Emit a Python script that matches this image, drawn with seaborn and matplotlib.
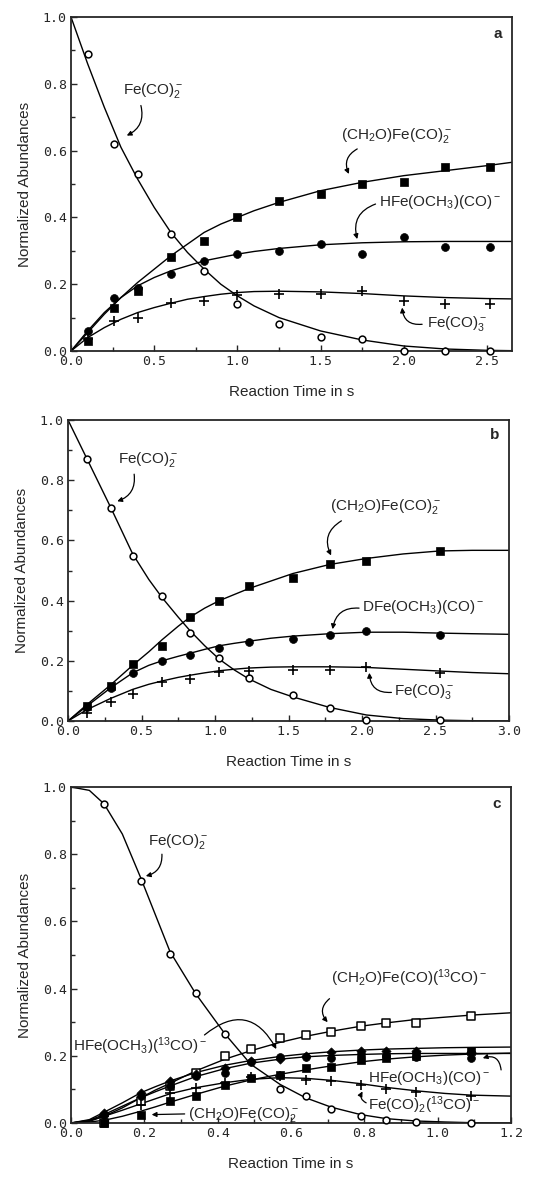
import matplotlib
matplotlib.use("Agg")
import numpy as np
import pandas as pd
import matplotlib.pyplot as plt
from matplotlib.ticker import MultipleLocator
import seaborn as sns

# ---------------- data: panel a ----------------
ta = [0.10, 0.26, 0.40, 0.60, 0.80, 1.00, 1.25, 1.50, 1.75, 2.00, 2.25, 2.52]
a_fe2 = [0.89, 0.62, 0.53, 0.35, 0.24, 0.14, 0.08, 0.042, 0.035, 0.0, 0.0, 0.0]
a_ch2o = [0.03, 0.13, 0.18, 0.28, 0.33, 0.40, 0.45, 0.47, 0.50, 0.505, 0.55, 0.55]
a_hfe = [0.06, 0.16, 0.19, 0.23, 0.27, 0.29, 0.30, 0.32, 0.29, 0.34, 0.31, 0.31]
a_fe3 = [0.035, 0.09, 0.10, 0.145, 0.15, 0.167, 0.17, 0.17, 0.18, 0.15, 0.14, 0.14]

xa_fit = [0, 0.1, 0.2, 0.3, 0.4, 0.5, 0.6, 0.7, 0.8, 0.9, 1.0, 1.1, 1.25, 1.5, 1.75, 2.0, 2.25, 2.5, 2.65]
a_fe2_fit = [1.0, 0.86, 0.73, 0.61, 0.515, 0.43, 0.355, 0.295, 0.245, 0.2, 0.165, 0.135, 0.10, 0.06, 0.033, 0.015, 0.006, 0.002, 0.001]
a_ch2o_fit = [0, 0.055, 0.11, 0.16, 0.205, 0.245, 0.285, 0.32, 0.355, 0.38, 0.40, 0.42, 0.445, 0.48, 0.505, 0.525, 0.54, 0.555, 0.565]
a_hfe_fit = [0, 0.06, 0.115, 0.16, 0.195, 0.22, 0.24, 0.255, 0.27, 0.28, 0.29, 0.298, 0.307, 0.318, 0.324, 0.327, 0.328, 0.328, 0.328]
a_fe3_fit = [0, 0.04, 0.07, 0.095, 0.115, 0.13, 0.143, 0.155, 0.163, 0.17, 0.175, 0.178, 0.179, 0.177, 0.172, 0.165, 0.16, 0.157, 0.156]

# ---------------- data: panel b ----------------
tb = [0.13, 0.29, 0.44, 0.64, 0.83, 1.03, 1.23, 1.53, 1.78, 2.03, 2.53]
b_fe2 = [0.87, 0.708, 0.548, 0.415, 0.293, 0.208, 0.142, 0.085, 0.042, 0.002, 0.002]
b_ch2o = [0.051, 0.116, 0.19, 0.25, 0.347, 0.398, 0.449, 0.475, 0.52, 0.53, 0.566]
b_dfe = [0.045, 0.11, 0.161, 0.20, 0.219, 0.242, 0.261, 0.273, 0.286, 0.298, 0.286]
b_fe3 = [0.026, 0.0625, 0.089, 0.13, 0.14, 0.162, 0.165, 0.17, 0.17, 0.18, 0.16]

xb_fit = [0, 0.13, 0.29, 0.44, 0.55, 0.64, 0.75, 0.83, 0.93, 1.03, 1.13, 1.23, 1.38, 1.53, 1.78, 2.03, 2.28, 2.53, 2.75, 3.0]
b_fe2_fit = [1.0, 0.87, 0.71, 0.555, 0.47, 0.41, 0.345, 0.30, 0.25, 0.205, 0.17, 0.14, 0.105, 0.08, 0.045, 0.02, 0.008, 0.003, 0.001, 0.0]
b_ch2o_fit = [0, 0.055, 0.12, 0.185, 0.23, 0.27, 0.315, 0.345, 0.375, 0.40, 0.42, 0.44, 0.465, 0.49, 0.52, 0.54, 0.555, 0.565, 0.567, 0.567]
b_dfe_fit = [0, 0.05, 0.11, 0.16, 0.185, 0.20, 0.215, 0.225, 0.238, 0.25, 0.258, 0.265, 0.275, 0.282, 0.29, 0.295, 0.295, 0.292, 0.29, 0.288]
b_fe3_fit = [0, 0.038, 0.075, 0.105, 0.122, 0.133, 0.145, 0.152, 0.16, 0.167, 0.172, 0.176, 0.179, 0.18, 0.18, 0.178, 0.172, 0.166, 0.161, 0.157]

# ---------------- data: panel c ----------------
tc = [0.09, 0.19, 0.27, 0.34, 0.42, 0.49, 0.57, 0.64, 0.71, 0.79, 0.86, 0.94, 1.09]
c_fe2 = [0.948, 0.72, 0.503, 0.388, 0.264, np.nan, 0.10, 0.081, 0.042, 0.02, 0.008, 0.002, 0.0]
c_ch2o13 = [0.0, 0.065, 0.11, 0.15, 0.20, 0.22, 0.252, 0.262, 0.272, 0.289, 0.299, 0.299, 0.319]
c_hfe13 = [0.03, 0.09, 0.125, 0.145, 0.165, 0.185, 0.19, 0.20, 0.212, 0.213, 0.215, 0.215, 0.212]
c_hfe = [0.025, 0.08, 0.11, 0.139, 0.15, 0.183, 0.196, 0.196, 0.193, 0.205, 0.20, 0.196, 0.193]
c_ch2o = [0.0, 0.023, 0.064, 0.081, 0.114, 0.134, 0.144, 0.163, 0.168, 0.188, 0.193, 0.20, 0.213]
c_fe13 = [0.02, 0.055, 0.089, 0.104, 0.119, 0.136, 0.14, 0.129, 0.124, 0.114, 0.101, 0.091, 0.081]

xc_fit = [0, 0.05, 0.09, 0.14, 0.19, 0.23, 0.27, 0.34, 0.42, 0.49, 0.57, 0.64, 0.71, 0.79, 0.86, 0.94, 1.02, 1.09, 1.2]
c_fe2_fit = [1.0, 0.99, 0.95, 0.86, 0.73, 0.62, 0.51, 0.385, 0.265, 0.175, 0.115, 0.075, 0.047, 0.025, 0.013, 0.006, 0.003, 0.001, 0.0]
c_ch2o13_fit = [0, 0.005, 0.02, 0.045, 0.075, 0.098, 0.118, 0.155, 0.19, 0.215, 0.24, 0.258, 0.273, 0.288, 0.298, 0.308, 0.315, 0.321, 0.328]
c_hfe13_fit = [0, 0.01, 0.032, 0.06, 0.09, 0.108, 0.125, 0.15, 0.172, 0.186, 0.198, 0.206, 0.212, 0.217, 0.22, 0.222, 0.224, 0.225, 0.226]
c_hfe_fit = [0, 0.008, 0.025, 0.05, 0.075, 0.093, 0.11, 0.138, 0.162, 0.178, 0.19, 0.197, 0.201, 0.204, 0.206, 0.207, 0.207, 0.207, 0.207]
c_ch2o_fit = [0, 0.003, 0.008, 0.02, 0.035, 0.048, 0.062, 0.085, 0.11, 0.128, 0.145, 0.158, 0.17, 0.182, 0.19, 0.197, 0.202, 0.205, 0.208]
c_fe13_fit = [0, 0.007, 0.02, 0.038, 0.057, 0.072, 0.087, 0.105, 0.12, 0.13, 0.135, 0.133, 0.127, 0.117, 0.106, 0.096, 0.088, 0.083, 0.08]

# ---------------- style ----------------
sns.set_style("ticks")
plt.rcParams['font.family'] = ['Liberation Sans', 'DejaVu Sans']
plt.rcParams['mathtext.fontset'] = 'custom'
plt.rcParams['mathtext.rm'] = 'Liberation Sans'
plt.rcParams['mathtext.it'] = 'Liberation Sans:italic'
plt.rcParams['mathtext.bf'] = 'Liberation Sans:bold'

fig = plt.figure(figsize=(5.57, 11.8), dpi=100)
axa = fig.add_axes([71/557, 1-351/1180, 441/557, 334/1180])
axb = fig.add_axes([68/557, 1-721/1180, 441/557, 301/1180])
axc = fig.add_axes([71/557, 1-1123/1180, 440/557, 336/1180])

MK = {
    'ocirc': dict(marker='o', s=24, facecolor='white', edgecolor='black', linewidth=1.1),
    'fcirc': dict(marker='o', s=32, color='black', edgecolor='black', linewidth=0.5),
    'fsq': dict(marker='s', s=32, color='black', edgecolor='black', linewidth=0.5),
    'osq': dict(marker='s', s=30, facecolor='white', edgecolor='black', linewidth=1.1),
    'fdia': dict(marker='D', s=22, color='black', edgecolor='black', linewidth=0.5),
    'plus': dict(marker='+', s=48, color='black', linewidth=1.2),
}


def draw(ax, x, y, xf, yf, mk):
    df = pd.DataFrame({'t': x, 'v': y}).dropna()
    dff = pd.DataFrame({'t': xf, 'v': yf})
    sns.lineplot(data=dff, x='t', y='v', ax=ax, color='black', lw=1.0,
                 estimator=None, sort=False, zorder=2)
    sns.scatterplot(data=df, x='t', y='v', ax=ax, zorder=3, clip_on=False, **MK[mk])


def arrow(ax, tail, head, rad):
    ax.annotate('', xy=head, xytext=tail,
                arrowprops=dict(arrowstyle='-|>', color='black', lw=0.9,
                                mutation_scale=7, shrinkA=0, shrinkB=0,
                                connectionstyle=f'arc3,rad={rad}'))


def style(ax, xmax, xmaj, xmin, letter):
    ax.set_xlim(0, xmax)
    ax.set_ylim(0, 1.0)
    ax.xaxis.set_major_locator(MultipleLocator(xmaj))
    ax.xaxis.set_minor_locator(MultipleLocator(xmin))
    ax.yaxis.set_major_locator(MultipleLocator(0.2))
    ax.yaxis.set_minor_locator(MultipleLocator(0.1))
    ax.tick_params(which='both', direction='in', width=1.0, pad=3)
    ax.tick_params(which='major', length=4)
    ax.tick_params(which='minor', length=3)
    for lab in ax.get_xticklabels() + ax.get_yticklabels():
        lab.set_fontfamily('DejaVu Sans Mono')
        lab.set_fontsize(9.5)
    for sp in ax.spines.values():
        sp.set_linewidth(1.3)
        sp.set_visible(True)
    ax.set_xlabel('Reaction Time in s', fontsize=11, labelpad=12)
    ax.set_ylabel('Normalized Abundances', fontsize=11, labelpad=8)
    ax.text(0.968, 0.95, letter, transform=ax.transAxes, fontsize=11,
            fontweight='bold', ha='center', va='center')


FS = 11

# ---------------- panel a ----------------
draw(axa, ta, a_fe2, xa_fit, a_fe2_fit, 'ocirc')
draw(axa, ta, a_ch2o, xa_fit, a_ch2o_fit, 'fsq')
draw(axa, ta, a_hfe, xa_fit, a_hfe_fit, 'fcirc')
draw(axa, ta, a_fe3, xa_fit, a_fe3_fit, 'plus')
style(axa, 2.65, 0.5, 0.25, 'a')
axa.text(0.31, 0.78, r'Fe(CO)$_2^-$', fontsize=FS, va='center')
arrow(axa, (0.42, 0.735), (0.335, 0.645), -0.4)
axa.text(1.62, 0.645, r'(CH$_2$O)Fe(CO)$_2^-$', fontsize=FS, va='center')
arrow(axa, (1.72, 0.605), (1.67, 0.53), 0.45)
axa.text(1.85, 0.447, r'HFe(OCH$_3$)(CO)$^-$', fontsize=FS, va='center')
arrow(axa, (1.83, 0.44), (1.72, 0.335), 0.45)
axa.text(2.14, 0.083, r'Fe(CO)$_3^-$', fontsize=FS, va='center')
arrow(axa, (2.11, 0.08), (1.99, 0.13), -0.5)

# ---------------- panel b ----------------
draw(axb, tb, b_fe2, xb_fit, b_fe2_fit, 'ocirc')
draw(axb, tb, b_ch2o, xb_fit, b_ch2o_fit, 'fsq')
draw(axb, tb, b_dfe, xb_fit, b_dfe_fit, 'fcirc')
draw(axb, tb, b_fe3, xb_fit, b_fe3_fit, 'plus')
style(axb, 3.0, 0.5, 0.25, 'b')
axb.text(0.34, 0.87, r'Fe(CO)$_2^-$', fontsize=FS, va='center')
arrow(axb, (0.45, 0.82), (0.335, 0.73), -0.4)
axb.text(1.78, 0.713, r'(CH$_2$O)Fe(CO)$_2^-$', fontsize=FS, va='center')
arrow(axb, (1.86, 0.665), (1.79, 0.55), 0.45)
axb.text(2.0, 0.38, r'DFe(OCH$_3$)(CO)$^-$', fontsize=FS, va='center')
arrow(axb, (1.98, 0.375), (1.8, 0.305), 0.45)
axb.text(2.22, 0.097, r'Fe(CO)$_3^-$', fontsize=FS, va='center')
arrow(axb, (2.2, 0.095), (2.05, 0.16), -0.5)

# ---------------- panel c ----------------
draw(axc, tc, c_fe2, xc_fit, c_fe2_fit, 'ocirc')
draw(axc, tc, c_ch2o13, xc_fit, c_ch2o13_fit, 'osq')
draw(axc, tc, c_hfe13, xc_fit, c_hfe13_fit, 'fdia')
draw(axc, tc, c_hfe, xc_fit, c_hfe_fit, 'fcirc')
draw(axc, tc, c_ch2o, xc_fit, c_ch2o_fit, 'fsq')
draw(axc, tc, c_fe13, xc_fit, c_fe13_fit, 'plus')
style(axc, 1.2, 0.2, 0.1, 'c')
axc.text(0.21, 0.838, r'Fe(CO)$_2^-$', fontsize=FS, va='center')
arrow(axc, (0.248, 0.80), (0.204, 0.735), -0.4)
axc.text(0.71, 0.43, r'(CH$_2$O)Fe(CO)($^{13}$CO)$^-$', fontsize=FS, va='center')
arrow(axc, (0.705, 0.37), (0.70, 0.30), 0.5)
axc.text(0.005, 0.228, r'HFe(OCH$_3$)($^{13}$CO)$^-$', fontsize=FS, va='center')
arrow(axc, (0.364, 0.262), (0.56, 0.22), -0.6)
axc.text(0.81, 0.134, r'HFe(OCH$_3$)(CO)$^-$', fontsize=FS, va='center')
arrow(axc, (1.173, 0.158), (1.123, 0.193), 0.6)
axc.text(0.81, 0.054, r'Fe(CO)$_2$($^{13}$CO)$^-$', fontsize=FS, va='center')
arrow(axc, (0.805, 0.06), (0.795, 0.094), -0.5)
axc.text(0.318, 0.025, r'(CH$_2$O)Fe(CO)$_2^-$', fontsize=FS, va='center')
arrow(axc, (0.31, 0.027), (0.22, 0.025), 0.0)

fig.savefig('out.png', dpi=100)
